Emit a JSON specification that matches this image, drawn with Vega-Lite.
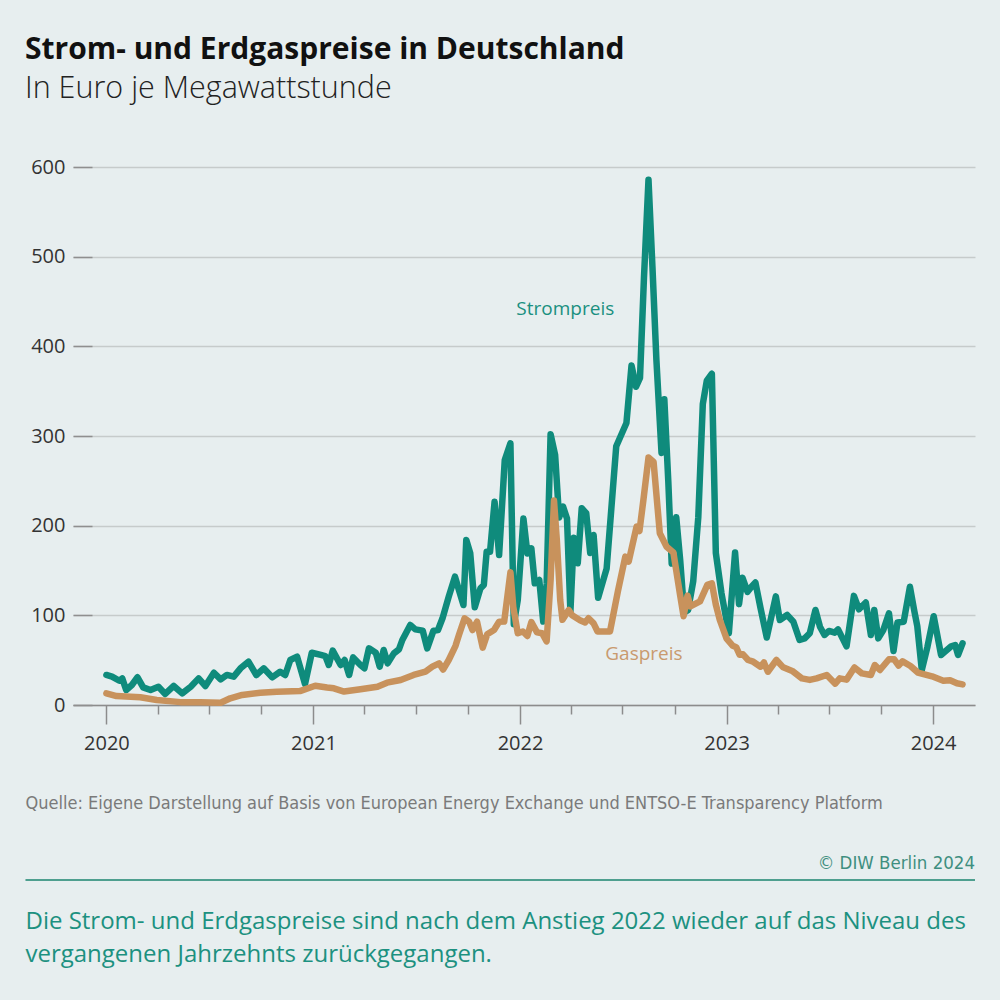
{
  "$schema": "https://vega.github.io/schema/vega-lite/v6.json",
  "width": 902,
  "height": 538,
  "autosize": {"type": "none"},
  "padding": {"left": 73, "top": 167, "right": 25, "bottom": 295},
  "background": "#e7eeef",
  "title": {
    "text": "Strom- und Erdgaspreise in Deutschland",
    "subtitle": "In Euro je Megawattstunde",
    "anchor": "start",
    "frame": "group",
    "dx": -48,
    "offset": 53,
    "font": "Open Sans",
    "fontSize": 30,
    "fontWeight": "bold",
    "color": "#111111",
    "subtitleFont": "Open Sans",
    "subtitleFontSize": 30.5,
    "subtitleFontWeight": 300,
    "subtitleColor": "#222222",
    "subtitlePadding": 9
  },
  "config": {"view": {"stroke": null}},
  "datasets": {
    "strom": [
      {"woche": "2020-01-01", "preis": 33.5}, {"woche": "2020-01-11", "preis": 31.6}, {"woche": "2020-01-24", "preis": 27}, {"woche": "2020-01-29", "preis": 29.7},
      {"woche": "2020-02-05", "preis": 16.7}, {"woche": "2020-02-15", "preis": 22.3}, {"woche": "2020-02-25", "preis": 30.9}, {"woche": "2020-03-06", "preis": 19.7},
      {"woche": "2020-03-19", "preis": 16.7}, {"woche": "2020-04-02", "preis": 20.4}, {"woche": "2020-04-14", "preis": 12.3}, {"woche": "2020-04-29", "preis": 21.2},
      {"woche": "2020-05-14", "preis": 13}, {"woche": "2020-05-29", "preis": 20.4}, {"woche": "2020-06-12", "preis": 29.7}, {"woche": "2020-06-24", "preis": 21.2},
      {"woche": "2020-07-09", "preis": 36}, {"woche": "2020-07-21", "preis": 28.6}, {"woche": "2020-08-01", "preis": 33.5}, {"woche": "2020-08-13", "preis": 31.6},
      {"woche": "2020-08-25", "preis": 40.9}, {"woche": "2020-09-08", "preis": 48.3}, {"woche": "2020-09-22", "preis": 33.5}, {"woche": "2020-10-05", "preis": 40.9},
      {"woche": "2020-10-20", "preis": 30.9}, {"woche": "2020-11-03", "preis": 37.1}, {"woche": "2020-11-12", "preis": 33.5}, {"woche": "2020-11-21", "preis": 50.2},
      {"woche": "2020-12-03", "preis": 53.9}, {"woche": "2020-12-17", "preis": 23.4}, {"woche": "2020-12-29", "preis": 58.3},
      {"woche": "2021-01-14", "preis": 55.8}, {"woche": "2021-01-22", "preis": 54.6}, {"woche": "2021-01-28", "preis": 44.6}, {"woche": "2021-02-04", "preis": 60.6},
      {"woche": "2021-02-18", "preis": 44.6}, {"woche": "2021-02-25", "preis": 50.2}, {"woche": "2021-03-05", "preis": 33.5}, {"woche": "2021-03-12", "preis": 53.1},
      {"woche": "2021-03-25", "preis": 44.6}, {"woche": "2021-04-01", "preis": 40.9}, {"woche": "2021-04-09", "preis": 63.2}, {"woche": "2021-04-21", "preis": 58.3},
      {"woche": "2021-04-28", "preis": 42.7}, {"woche": "2021-05-05", "preis": 61.3}, {"woche": "2021-05-12", "preis": 46.5}, {"woche": "2021-05-23", "preis": 57.6},
      {"woche": "2021-06-01", "preis": 62}, {"woche": "2021-06-07", "preis": 72.5}, {"woche": "2021-06-21", "preis": 89.2}, {"woche": "2021-06-30", "preis": 84.3},
      {"woche": "2021-07-13", "preis": 82.9}, {"woche": "2021-07-21", "preis": 63.2}, {"woche": "2021-08-01", "preis": 82.9}, {"woche": "2021-08-09", "preis": 83.6},
      {"woche": "2021-08-17", "preis": 96.7}, {"woche": "2021-08-28", "preis": 120.8}, {"woche": "2021-09-08", "preis": 143.1}, {"woche": "2021-09-15", "preis": 128.2},
      {"woche": "2021-09-23", "preis": 111.5}, {"woche": "2021-09-28", "preis": 184}, {"woche": "2021-10-05", "preis": 169.2}, {"woche": "2021-10-13", "preis": 109},
      {"woche": "2021-10-23", "preis": 130.1}, {"woche": "2021-10-29", "preis": 133.8}, {"woche": "2021-11-03", "preis": 171}, {"woche": "2021-11-09", "preis": 171},
      {"woche": "2021-11-17", "preis": 226.7}, {"woche": "2021-11-25", "preis": 167.3}, {"woche": "2021-12-05", "preis": 273.2}, {"woche": "2021-12-15", "preis": 291.8},
      {"woche": "2021-12-21", "preis": 90}, {"woche": "2021-12-28", "preis": 117},
      {"woche": "2022-01-07", "preis": 208}, {"woche": "2022-01-14", "preis": 169}, {"woche": "2022-01-21", "preis": 174.7}, {"woche": "2022-01-27", "preis": 135.7},
      {"woche": "2022-02-04", "preis": 139.4}, {"woche": "2022-02-11", "preis": 93}, {"woche": "2022-02-17", "preis": 135}, {"woche": "2022-02-24", "preis": 302},
      {"woche": "2022-03-04", "preis": 279}, {"woche": "2022-03-11", "preis": 209}, {"woche": "2022-03-18", "preis": 221.3}, {"woche": "2022-03-25", "preis": 207.9},
      {"woche": "2022-03-31", "preis": 104}, {"woche": "2022-04-06", "preis": 186.6}, {"woche": "2022-04-13", "preis": 158}, {"woche": "2022-04-20", "preis": 219.4},
      {"woche": "2022-04-28", "preis": 213.8}, {"woche": "2022-05-05", "preis": 169.6}, {"woche": "2022-05-11", "preis": 189.6}, {"woche": "2022-05-19", "preis": 119.5},
      {"woche": "2022-06-03", "preis": 152}, {"woche": "2022-06-20", "preis": 288.6}, {"woche": "2022-07-08", "preis": 314.5}, {"woche": "2022-07-17", "preis": 378.7},
      {"woche": "2022-07-25", "preis": 354.9}, {"woche": "2022-08-01", "preis": 364.8}, {"woche": "2022-08-08", "preis": 476.3}, {"woche": "2022-08-16", "preis": 585.9},
      {"woche": "2022-08-23", "preis": 488.3}, {"woche": "2022-08-30", "preis": 384.7}, {"woche": "2022-09-08", "preis": 281.1}, {"woche": "2022-09-13", "preis": 340.9},
      {"woche": "2022-09-20", "preis": 249.3}, {"woche": "2022-09-26", "preis": 157.7}, {"woche": "2022-10-04", "preis": 209.5}, {"woche": "2022-10-11", "preis": 161.7},
      {"woche": "2022-10-18", "preis": 103}, {"woche": "2022-10-25", "preis": 106}, {"woche": "2022-11-03", "preis": 137.8}, {"woche": "2022-11-12", "preis": 209.5},
      {"woche": "2022-11-20", "preis": 335.7}, {"woche": "2022-11-27", "preis": 361.6}, {"woche": "2022-12-06", "preis": 369.4}, {"woche": "2022-12-13", "preis": 169.6},
      {"woche": "2022-12-23", "preis": 124.6},
      {"woche": "2023-01-05", "preis": 80}, {"woche": "2023-01-16", "preis": 170}, {"woche": "2023-01-23", "preis": 112.5}, {"woche": "2023-01-29", "preis": 142},
      {"woche": "2023-02-07", "preis": 126.2}, {"woche": "2023-02-14", "preis": 131.9}, {"woche": "2023-02-21", "preis": 136.6}, {"woche": "2023-03-02", "preis": 108},
      {"woche": "2023-03-13", "preis": 75.2}, {"woche": "2023-03-29", "preis": 121.2}, {"woche": "2023-04-05", "preis": 94.8}, {"woche": "2023-04-18", "preis": 100.4},
      {"woche": "2023-04-29", "preis": 92.9}, {"woche": "2023-05-10", "preis": 72.5}, {"woche": "2023-05-19", "preis": 74.3}, {"woche": "2023-05-28", "preis": 80},
      {"woche": "2023-06-07", "preis": 106}, {"woche": "2023-06-15", "preis": 87.3}, {"woche": "2023-06-23", "preis": 78.1}, {"woche": "2023-07-01", "preis": 82.6},
      {"woche": "2023-07-11", "preis": 80.7}, {"woche": "2023-07-17", "preis": 84.3}, {"woche": "2023-08-01", "preis": 65.4}, {"woche": "2023-08-14", "preis": 121.7},
      {"woche": "2023-08-23", "preis": 106.7}, {"woche": "2023-09-04", "preis": 114.3}, {"woche": "2023-09-13", "preis": 78.1}, {"woche": "2023-09-19", "preis": 106},
      {"woche": "2023-09-26", "preis": 74.3}, {"woche": "2023-10-05", "preis": 83.6}, {"woche": "2023-10-15", "preis": 102.3}, {"woche": "2023-10-23", "preis": 60.3},
      {"woche": "2023-10-30", "preis": 92}, {"woche": "2023-11-10", "preis": 92.9}, {"woche": "2023-11-21", "preis": 131.9}, {"woche": "2023-11-29", "preis": 104},
      {"woche": "2023-12-04", "preis": 88}, {"woche": "2023-12-12", "preis": 39}, {"woche": "2023-12-22", "preis": 65},
      {"woche": "2024-01-02", "preis": 99}, {"woche": "2024-01-15", "preis": 55.8}, {"woche": "2024-02-02", "preis": 65.5}, {"woche": "2024-02-09", "preis": 66.9},
      {"woche": "2024-02-14", "preis": 55.8}, {"woche": "2024-02-22", "preis": 68.8}
    ],
    "gas": [
      {"woche": "2020-01-01", "preis": 13}, {"woche": "2020-01-19", "preis": 10}, {"woche": "2020-03-01", "preis": 8.6}, {"woche": "2020-03-30", "preis": 5.6},
      {"woche": "2020-05-11", "preis": 3.2}, {"woche": "2020-06-15", "preis": 3}, {"woche": "2020-07-21", "preis": 2.5}, {"woche": "2020-08-07", "preis": 7.5},
      {"woche": "2020-08-28", "preis": 11.2}, {"woche": "2020-09-29", "preis": 13.7}, {"woche": "2020-10-28", "preis": 14.8}, {"woche": "2020-12-08", "preis": 15.5},
      {"woche": "2021-01-04", "preis": 21.5}, {"woche": "2021-01-25", "preis": 19.5}, {"woche": "2021-02-06", "preis": 18.6}, {"woche": "2021-02-24", "preis": 15},
      {"woche": "2021-03-25", "preis": 17.5}, {"woche": "2021-04-24", "preis": 20.4}, {"woche": "2021-05-11", "preis": 24.9}, {"woche": "2021-06-04", "preis": 27.9},
      {"woche": "2021-06-27", "preis": 33.5}, {"woche": "2021-07-18", "preis": 37.1}, {"woche": "2021-07-30", "preis": 42.7}, {"woche": "2021-08-11", "preis": 46.5},
      {"woche": "2021-08-18", "preis": 39.5}, {"woche": "2021-08-28", "preis": 50.2}, {"woche": "2021-09-09", "preis": 66}, {"woche": "2021-09-15", "preis": 78},
      {"woche": "2021-09-25", "preis": 96.7}, {"woche": "2021-10-03", "preis": 93}, {"woche": "2021-10-09", "preis": 83.6}, {"woche": "2021-10-17", "preis": 92.9},
      {"woche": "2021-10-27", "preis": 64}, {"woche": "2021-11-04", "preis": 79}, {"woche": "2021-11-16", "preis": 83.6}, {"woche": "2021-11-25", "preis": 92.9},
      {"woche": "2021-12-04", "preis": 93}, {"woche": "2021-12-15", "preis": 148}, {"woche": "2021-12-20", "preis": 109.6}, {"woche": "2021-12-28", "preis": 80},
      {"woche": "2022-01-06", "preis": 82}, {"woche": "2022-01-14", "preis": 77}, {"woche": "2022-01-21", "preis": 92.5}, {"woche": "2022-01-31", "preis": 81},
      {"woche": "2022-02-09", "preis": 80}, {"woche": "2022-02-17", "preis": 71}, {"woche": "2022-02-24", "preis": 139}, {"woche": "2022-03-02", "preis": 228},
      {"woche": "2022-03-07", "preis": 184}, {"woche": "2022-03-13", "preis": 117}, {"woche": "2022-03-17", "preis": 95}, {"woche": "2022-03-28", "preis": 106},
      {"woche": "2022-04-03", "preis": 100}, {"woche": "2022-04-17", "preis": 94.5}, {"woche": "2022-04-26", "preis": 92}, {"woche": "2022-05-02", "preis": 96.7},
      {"woche": "2022-05-11", "preis": 91}, {"woche": "2022-05-18", "preis": 82}, {"woche": "2022-06-09", "preis": 82}, {"woche": "2022-06-23", "preis": 127},
      {"woche": "2022-07-06", "preis": 165.5}, {"woche": "2022-07-12", "preis": 160}, {"woche": "2022-07-26", "preis": 199}, {"woche": "2022-07-31", "preis": 194},
      {"woche": "2022-08-07", "preis": 228.6}, {"woche": "2022-08-16", "preis": 276}, {"woche": "2022-08-25", "preis": 271}, {"woche": "2022-09-05", "preis": 191.5},
      {"woche": "2022-09-17", "preis": 176.5}, {"woche": "2022-09-29", "preis": 170}, {"woche": "2022-10-11", "preis": 122}, {"woche": "2022-10-17", "preis": 99},
      {"woche": "2022-10-24", "preis": 122}, {"woche": "2022-10-29", "preis": 110}, {"woche": "2022-11-15", "preis": 115.5}, {"woche": "2022-11-28", "preis": 134},
      {"woche": "2022-12-06", "preis": 135.8}, {"woche": "2022-12-13", "preis": 112}, {"woche": "2022-12-20", "preis": 95},
      {"woche": "2023-01-01", "preis": 74}, {"woche": "2023-01-12", "preis": 66}, {"woche": "2023-01-18", "preis": 64.5}, {"woche": "2023-01-24", "preis": 56},
      {"woche": "2023-01-30", "preis": 56.5}, {"woche": "2023-02-08", "preis": 50.2}, {"woche": "2023-02-17", "preis": 48.3}, {"woche": "2023-03-02", "preis": 42.7},
      {"woche": "2023-03-08", "preis": 47.5}, {"woche": "2023-03-15", "preis": 37.1}, {"woche": "2023-03-30", "preis": 50.2}, {"woche": "2023-04-11", "preis": 42},
      {"woche": "2023-04-27", "preis": 38}, {"woche": "2023-05-14", "preis": 29.7}, {"woche": "2023-05-28", "preis": 28}, {"woche": "2023-06-09", "preis": 29.7},
      {"woche": "2023-06-27", "preis": 33.5}, {"woche": "2023-07-12", "preis": 23.8}, {"woche": "2023-07-20", "preis": 29.7}, {"woche": "2023-08-01", "preis": 28.3},
      {"woche": "2023-08-15", "preis": 41.8}, {"woche": "2023-08-28", "preis": 35.3}, {"woche": "2023-09-13", "preis": 33.5}, {"woche": "2023-09-20", "preis": 44.6},
      {"woche": "2023-09-29", "preis": 39}, {"woche": "2023-10-15", "preis": 51}, {"woche": "2023-10-24", "preis": 51}, {"woche": "2023-11-01", "preis": 44},
      {"woche": "2023-11-08", "preis": 48.7}, {"woche": "2023-11-22", "preis": 43.5}, {"woche": "2023-12-05", "preis": 36.2}, {"woche": "2023-12-30", "preis": 32},
      {"woche": "2024-01-19", "preis": 27}, {"woche": "2024-01-31", "preis": 27.5}, {"woche": "2024-02-12", "preis": 24.2}, {"woche": "2024-02-22", "preis": 23}
    ]
  },
  "layer": [
    {
      "data": {"name": "strom"},
      "mark": {"type": "line", "color": "#0f8b7c", "strokeWidth": 6.5, "strokeJoin": "round", "strokeCap": "round"},
      "encoding": {
        "x": {
          "field": "woche", "type": "temporal",
          "scale": {"type": "utc", "domain": [{"year": 2019, "month": 11, "date": 3, "utc": true}, {"year": 2024, "month": 3, "date": 15, "utc": true}]},
          "axis": {
            "orient": "bottom", "title": null, "format": "%Y", "grid": false,
            "values": [{"year": 2020, "utc": true}, {"year": 2021, "utc": true}, {"year": 2022, "utc": true}, {"year": 2023, "utc": true}, {"year": 2024, "utc": true}],
            "domain": true, "domainColor": "#8c8c8c", "domainWidth": 1.5,
            "ticks": true, "tickSize": 19, "tickColor": "#8c8c8c", "tickWidth": 1.5,
            "labelPadding": 9, "labelFont": "Open Sans", "labelFontSize": 20, "labelColor": "#333333", "labelFlush": false
          }
        },
        "y": {
          "field": "preis", "type": "quantitative",
          "scale": {"domain": [0, 600], "nice": false, "zero": true},
          "axis": {
            "title": null, "values": [0, 100, 200, 300, 400, 500, 600], "domain": false,
            "grid": true, "gridColor": "#c6cbcb", "gridWidth": 1.3,
            "ticks": true, "tickSize": -19, "tickColor": "#8f8f8f", "tickWidth": 1.5,
            "labelPadding": 27, "labelFont": "Open Sans", "labelFontSize": 20, "labelColor": "#333333"
          }
        }
      }
    },
    {
      "data": {"name": "gas"},
      "mark": {"type": "line", "color": "#c8925c", "strokeWidth": 6.5, "strokeJoin": "round", "strokeCap": "round"},
      "encoding": {
        "x": {
          "field": "woche", "type": "temporal",
          "axis": {
            "orient": "bottom", "title": null, "labels": false, "domain": false, "grid": false,
            "values": [
              {"year": 2020, "month": 4, "date": 1, "utc": true}, {"year": 2020, "month": 7, "date": 1, "utc": true}, {"year": 2020, "month": 10, "date": 1, "utc": true},
              {"year": 2021, "month": 4, "date": 1, "utc": true}, {"year": 2021, "month": 7, "date": 1, "utc": true}, {"year": 2021, "month": 10, "date": 1, "utc": true},
              {"year": 2022, "month": 4, "date": 1, "utc": true}, {"year": 2022, "month": 7, "date": 1, "utc": true}, {"year": 2022, "month": 10, "date": 1, "utc": true},
              {"year": 2023, "month": 4, "date": 1, "utc": true}, {"year": 2023, "month": 7, "date": 1, "utc": true}, {"year": 2023, "month": 10, "date": 1, "utc": true}
            ],
            "ticks": true, "tickSize": 9, "tickColor": "#8c8c8c", "tickWidth": 1.5
          }
        },
        "y": {"field": "preis", "type": "quantitative"}
      }
    },
    {
      "data": {"values": [{"name": "Strompreis"}]},
      "mark": {"type": "text", "font": "Open Sans", "fontSize": 19, "color": "#1a9080", "align": "center", "baseline": "middle"},
      "encoding": {
        "x": {"datum": {"year": 2022, "month": 3, "date": 22, "utc": true}, "type": "temporal", "axis": null},
        "y": {"datum": 441.6, "type": "quantitative"},
        "text": {"field": "name"}
      }
    },
    {
      "data": {"values": [{"name": "Gaspreis"}]},
      "mark": {"type": "text", "font": "Open Sans", "fontSize": 19, "color": "#c99a6e", "align": "center", "baseline": "middle"},
      "encoding": {
        "x": {"datum": {"year": 2022, "month": 8, "date": 8, "utc": true}, "type": "temporal", "axis": null},
        "y": {"datum": 56.9, "type": "quantitative"},
        "text": {"field": "name"}
      }
    },
    {
      "data": {"values": [{"note": "Quelle: Eigene Darstellung auf Basis von European Energy Exchange und ENTSO-E Transparency  Platform"}]},
      "mark": {"type": "text", "font": "Liberation Sans Narrow, DejaVu Sans Condensed, sans-serif", "fontSize": 18, "color": "#7a7a7a", "align": "left", "baseline": "alphabetic"},
      "encoding": {
        "x": {"datum": {"year": 2019, "month": 8, "date": 11, "utc": true}, "type": "temporal", "axis": null},
        "y": {"datum": -115.9, "type": "quantitative"},
        "text": {"field": "note"}
      }
    },
    {
      "data": {"values": [{"note": "© DIW Berlin 2024"}]},
      "mark": {"type": "text", "font": "Liberation Sans Narrow, DejaVu Sans Condensed, sans-serif", "fontSize": 18.5, "color": "#3f8f80", "align": "right", "baseline": "alphabetic"},
      "encoding": {
        "x": {"datum": {"year": 2024, "month": 3, "date": 15, "utc": true}, "type": "temporal", "axis": null},
        "y": {"datum": -182.9, "type": "quantitative"},
        "text": {"field": "note"}
      }
    },
    {
      "data": {"values": [{}]},
      "mark": {"type": "rule", "color": "#4e9f8f", "strokeWidth": 2},
      "encoding": {
        "x": {"datum": {"year": 2019, "month": 8, "date": 11, "utc": true}, "type": "temporal", "axis": null},
        "x2": {"datum": {"year": 2024, "month": 3, "date": 15, "utc": true}},
        "y": {"datum": -195.2, "type": "quantitative"}
      }
    },
    {
      "data": {"values": [{"note": "Die Strom- und Erdgaspreise sind nach dem Anstieg 2022 wieder auf das Niveau des\nvergangenen Jahrzehnts zurückgegangen."}]},
      "mark": {"type": "text", "font": "Open Sans", "fontSize": 24, "color": "#1c9180", "align": "left", "baseline": "alphabetic", "lineBreak": "\n", "lineHeight": 33},
      "encoding": {
        "x": {"datum": {"year": 2019, "month": 8, "date": 11, "utc": true}, "type": "temporal", "axis": null},
        "y": {"datum": -249.8, "type": "quantitative"},
        "text": {"field": "note"}
      }
    }
  ],
  "resolve": {"axis": {"x": "independent"}}
}
